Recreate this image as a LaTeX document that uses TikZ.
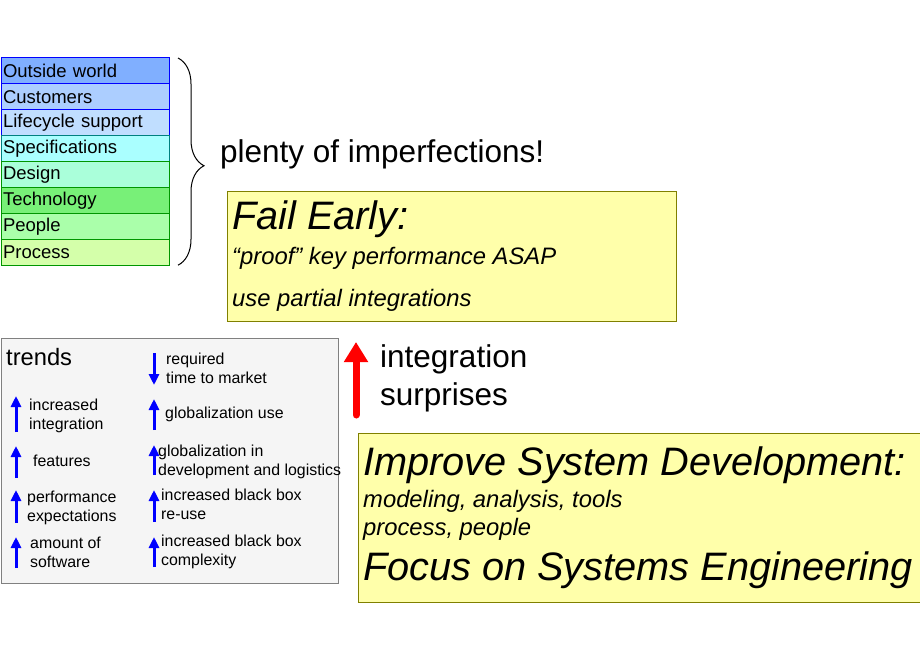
\documentclass[tikz,border=0pt]{standalone}
\usepackage{fontspec}
\setmainfont{Liberation Sans}
\usetikzlibrary{positioning,arrows.meta,decorations.pathreplacing}
\usepackage{xcolor}
\definecolor{OutsideBlue}{RGB}{128,175,255}
\definecolor{CustBlue}{RGB}{172,206,255}
\definecolor{CycleBlue}{RGB}{192,222,255}
\definecolor{SpecCyan}{RGB}{170,255,255}
\definecolor{DesignMint}{RGB}{170,255,218}
\definecolor{TechGreen}{RGB}{120,240,120}
\definecolor{PeopleGreen}{RGB}{170,255,170}
\definecolor{ProcLime}{RGB}{212,255,170}
\definecolor{RowGreen}{RGB}{0,150,0}
\definecolor{RowTeal}{RGB}{0,128,128}
\definecolor{NoteYellow}{RGB}{255,255,170}
\definecolor{NoteOlive}{RGB}{128,128,0}
\definecolor{TrendGray}{RGB}{245,245,245}

\begin{document}
\begin{tikzpicture}[x=1pt,y=-1pt,
node distance=0pt,
stackrow/.style={rectangle,line width=1pt,outer sep=0pt,minimum width=168pt,
minimum height=25.9pt,inner xsep=2pt,inner ysep=0pt,text width=164pt,align=left,
font=\fontsize{18.5}{20}\selectfont},
notebox/.style={rectangle,draw=NoteOlive,fill=NoteYellow,line width=1pt,anchor=north west},
bigtxt/.style={anchor=base west,inner sep=0pt,font=\fontsize{31.5}{36}\selectfont},
slogan/.style={anchor=base west,inner sep=0pt,font=\itshape\fontsize{39.7}{44}\selectfont},
subtxt/.style={anchor=base west,inner sep=0pt,font=\itshape\fontsize{23.8}{28}\selectfont},
trendtxt/.style={anchor=base west,inner sep=0pt,align=left,font=\fontsize{15.9}{18.8}\selectfont},
trendarrow/.style={-{Triangle[length=11pt,width=10pt]},line width=3pt,draw=blue},
redarrow/.style={-{Triangle[length=20pt,width=23pt]},line width=7pt,draw=red,line cap=round}
]
\useasboundingbox (0,0) rectangle (920,660);

% imperfection stack
\node[stackrow,draw=blue,fill=OutsideBlue,anchor=north west] (outside) at (1,58) {Outside world};
\node[stackrow,draw=blue,fill=CustBlue,below=of outside] (customers) {Customers};
\node[stackrow,draw=blue,fill=CycleBlue,below=of customers] (lifecycle) {Lifecycle support};
\node[stackrow,draw=RowTeal,fill=SpecCyan,below=of lifecycle] (specs) {Specifications};
\node[stackrow,draw=RowGreen,fill=DesignMint,below=of specs] (design) {Design};
\node[stackrow,draw=RowGreen,fill=TechGreen,below=of design] (technology) {Technology};
\node[stackrow,draw=RowGreen,fill=PeopleGreen,below=of technology] (people) {People};
\node[stackrow,draw=RowGreen,fill=ProcLime,below=of people] (process) {Process};
\draw[decorate,decoration={brace,amplitude=26pt,aspect=0.52},line width=1pt]
  ([xshift=9pt]outside.north east) -- ([xshift=9pt]process.south east);
\node[bigtxt] (imperf) at (220,163) {plenty of imperfections!};

% fail early
\node[notebox,minimum width=449pt,minimum height=130pt] (failbox) at (227,191) {};
\node[slogan] (fail) at (232,230) {Fail Early:};
\node[subtxt] (proof) at (232,264) {``proof'' key performance ASAP};
\node[subtxt] (partial) at (232,306) {use partial integrations};

% trends (two-line nodes are placed by their last baseline)
\node[rectangle,draw=gray,fill=TrendGray,line width=1pt,anchor=north west,
  minimum width=337pt,minimum height=245pt] (trendbox) at (1,338) {};
\node[anchor=base west,inner sep=0pt,font=\fontsize{23.7}{26}\selectfont] (trends) at (6,365) {trends};
\node[trendtxt] (integ) at (29,429) {increased\\integration};
\node[trendtxt] (feat) at (33,466) {features};
\node[trendtxt] (perf) at (27,521) {performance\\expectations};
\node[trendtxt] (soft) at (30,567) {amount of\\software};
\node[trendtxt] (market) at (166,383) {required\\time to market};
\node[trendtxt] (globuse) at (165,418) {globalization use};
\node[trendtxt] (globdev) at (158,475) {globalization in\\development and logistics};
\node[trendtxt] (reuse) at (161,519) {increased black box\\re-use};
\node[trendtxt] (cplx) at (161,565) {increased black box\\complexity};
\foreach \x/\ya/\yb in {16/432/396,16/478/446,16/523/490,16/568/537,
  154/353/385,154/430/399,154/475/445,154/522/490,154/567/537}
  \draw[trendarrow] (\x,\ya) -- (\x,\yb);

% integration surprises
\coordinate (risebot) at (356,415);
\coordinate (risetop) at (356,342);
\draw[redarrow] (risebot) -- (risetop);
\node[bigtxt] (integration) at (380,367) {integration};
\node[bigtxt] (surprises) at (380,405) {surprises};

% improve system development
\node[notebox,minimum width=563pt,minimum height=169pt] (improvebox) at (358,433) {};
\node[slogan] (improve) at (363,475) {Improve System Development:};
\node[subtxt] (modeling) at (363,507) {modeling, analysis, tools};
\node[subtxt] (procpeople) at (363,535) {process, people};
\node[slogan] (focus) at (363,580) {Focus on Systems Engineering};
\end{tikzpicture}
\end{document}
